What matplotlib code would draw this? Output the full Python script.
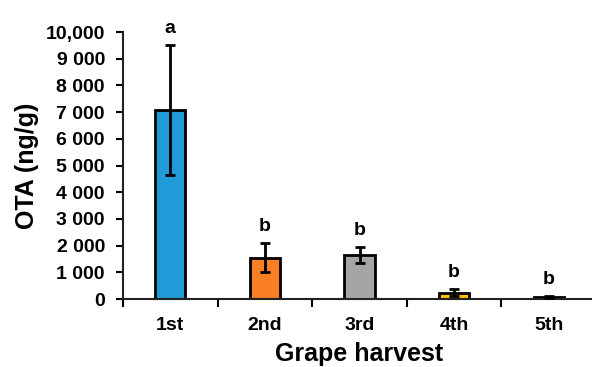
import numpy as np
import matplotlib.pyplot as plt
from matplotlib.ticker import FuncFormatter

plt.rcParams['font.family'] = ['Liberation Sans', 'DejaVu Sans']
plt.rcParams['font.weight'] = 'bold'

# data
harvests = ['1st', '2nd', '3rd', '4th', '5th']
ota = [7080, 1550, 1650, 240, 70]
ota_err = [2430, 550, 310, 130, 30]
letters = ['a', 'b', 'b', 'b', 'b']
colors = ['#1f9bd7', '#f97f25', '#a5a5a5', '#ffc000', '#4472c4']

fig = plt.figure(figsize=(5.92, 3.67), dpi=100)
ax = fig.add_axes([123 / 592, 1 - 299 / 367, 473 / 592, 267 / 367])

x = np.arange(len(harvests))
ax.bar(x, ota, width=0.32, color=colors, edgecolor='black', linewidth=2, zorder=2)
ax.errorbar(x, ota, yerr=ota_err, fmt='none', ecolor='black', elinewidth=2,
            capsize=3.5, capthick=2, zorder=3)

for xi, v, e, l in zip(x, ota, ota_err, letters):
    ax.text(xi, v + e + 300, l, ha='center', va='bottom', fontsize=14, fontweight='bold')

ax.set_xlim(-0.5, 4.5)
ax.set_ylim(0, 10000)
ax.set_yticks(np.arange(0, 10001, 1000))


def fmt(v, pos):
    if v >= 10000:
        return '{:,}'.format(int(v))
    return '{:,}'.format(int(v)).replace(',', ' ')


ax.yaxis.set_major_formatter(FuncFormatter(fmt))
ax.set_xticks(x)
ax.set_xticklabels(harvests)
ax.set_xticks(np.arange(-0.5, 4.6, 1), minor=True)
ax.tick_params(axis='x', which='major', length=0, pad=13, labelsize=14)
ax.tick_params(axis='x', which='minor', length=6, width=1.5, direction='out')
ax.tick_params(axis='y', length=5, width=1.5, labelsize=14, pad=8)

for s in ['top', 'right']:
    ax.spines[s].set_visible(False)
for s in ['left', 'bottom']:
    ax.spines[s].set_linewidth(1.5)
    ax.spines[s].set_color('#222222')

ax.set_ylabel('OTA (ng/g)', fontsize=18, fontweight='bold', labelpad=5)
ax.set_xlabel('Grape harvest', fontsize=18, fontweight='bold', labelpad=6)

fig.savefig('out.png', dpi=100)
